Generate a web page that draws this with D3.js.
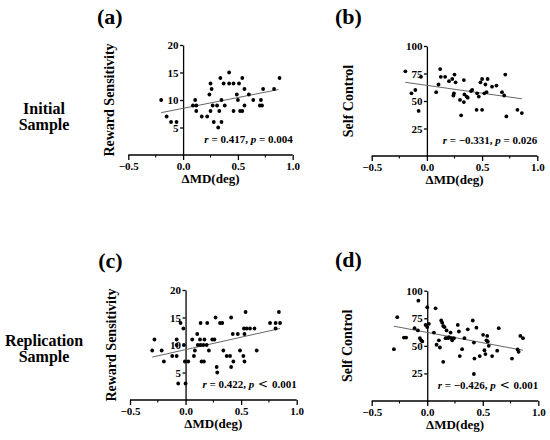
<!DOCTYPE html>
<html><head><meta charset="utf-8">
<script src="https://cdn.jsdelivr.net/npm/d3@7/dist/d3.min.js"></script>
<style>body{margin:0;background:#fff}svg{display:block}text{font-family:"Liberation Serif","Times New Roman",serif;font-weight:bold;fill:#000}</style>
</head><body><svg id="c" width="550" height="440"></svg>
<script>
// ---- data ----
const xTicks = [-0.5, 0, 0.5, 1.0];
const xMinorTicks = [-0.25, 0.25, 0.75];
const rsTicks = [5, 10, 15, 20];
const scTicks = [25, 50, 75, 100];

const aX = [-0.20,-0.15,-0.11,-0.06,0.09,0.11,0.12,0.12,0.17,0.22,0.24,0.25,0.26,0.25,0.27,0.28,0.31,0.32,0.33,0.34,0.35,0.35,0.37,0.38,0.42,0.42,0.46,0.46,0.49,0.50,0.51,0.52,0.54,0.54,0.56,0.56,0.60,0.64,0.70,0.71,0.72,0.73,0.83,0.88];
const aY = [10,7,6,6,9,10,9,8,7,7,11,13,12,8,9,6,9,5,8,14,6,10,13,9,15,13,13,8,11,10,13,8,14,8,12,9,11,10,9,10,9,12,12,14];
const aFit = [[-0.20, 7.7], [0.87, 11.9]];

const bX = [-0.195,-0.14,-0.105,-0.075,-0.054,0.084,0.105,0.12,0.126,0.165,0.20,0.23,0.24,0.245,0.25,0.26,0.30,0.31,0.335,0.335,0.34,0.36,0.37,0.40,0.41,0.45,0.455,0.47,0.485,0.50,0.50,0.52,0.53,0.54,0.55,0.59,0.63,0.68,0.70,0.71,0.72,0.82,0.86];
const bY = [77,57,60,41,72,58,65,79,72,72,68,70,55,57,74,67,51,37,69,49,56,54,53,59,60,42,57,54,67,70,42,57,65,58,70,63,64,58,55,74,36,42,39];
const bFit = [[-0.195, 67], [0.86, 52]];

const cX = [-0.30,-0.28,-0.215,-0.195,-0.12,-0.08,-0.08,-0.08,-0.066,-0.045,-0.02,-0.015,-0.006,0.0,0.024,0.06,0.075,0.084,0.105,0.11,0.13,0.135,0.135,0.144,0.16,0.165,0.17,0.19,0.195,0.21,0.24,0.26,0.27,0.28,0.285,0.31,0.33,0.34,0.37,0.40,0.41,0.41,0.425,0.43,0.47,0.49,0.52,0.525,0.53,0.53,0.54,0.55,0.58,0.62,0.64,0.76,0.81,0.81,0.84,0.85];
const cY = [9,11,9,7,8,11,10,8,3,14,13,10,7,3,7,11,8,9,12,10,11,14,10,7,10,7,11,10,14,9,11,11,15,6,5,14,14,9,8,8,6,15,12,7,12,9,8,13,7,12,16,13,13,13,9,14,14,13,16,14];
const cFit = [[-0.30, 7.8], [0.85, 13.0]];

const dX = [-0.30,-0.27,-0.21,-0.19,-0.114,-0.08,-0.084,-0.066,-0.054,-0.045,-0.015,0.0,0.0,0.015,0.06,0.075,0.084,0.105,0.114,0.126,0.135,0.144,0.144,0.156,0.165,0.174,0.186,0.195,0.21,0.216,0.225,0.24,0.275,0.285,0.293,0.314,0.335,0.365,0.41,0.42,0.425,0.42,0.443,0.473,0.503,0.515,0.524,0.533,0.54,0.545,0.554,0.584,0.63,0.644,0.763,0.814,0.823,0.838,0.862];
const dY = [47,76,57.5,57.5,66,91,64,57,55,54,69,85,67,70,62,84,51,55,48.5,73,71,68,35.5,67,57,64,57,58,62,57,55,57,69,63,40.7,47,57,65,73,53,38.5,24.5,66.5,40.7,60,46,42.5,55,59,54,50,40.7,45.6,66,38.5,46.8,44.6,59,57];
const dFit = [[-0.30, 67.8], [0.862, 46]];

const panels = [
  {id:"(a)", xs:aX, ys:aY, fit:aFit, yTicks:rsTicks, yMax:20, yLabel:"Reward Sensitivity",
   stat:["r"," = 0.417, ","p"," = 0.004"], x0:128.3, x1:292.7, yb:155, yt:45, labDx:19.3, idDx:18.5, idY:24},
  {id:"(b)", xs:bX, ys:bY, fit:bFit, yTicks:scTicks, yMax:100, yLabel:"Self Control",
   stat:["r"," = −0.331, ","p"," = 0.026"], x0:371.7, x1:537.3, yb:156, yt:46, labDx:24.2, idDx:23.2, idY:24},
  {id:"(c)", xs:cX, ys:cY, fit:cFit, yTicks:rsTicks, yMax:20, yLabel:"Reward Sensitivity",
   stat:["r"," = 0.422, ","p"," < ","0.001"], x0:130, x1:296.7, yb:400, yt:290, labDx:19, idDx:19.5, idY:267.5},
  {id:"(d)", xs:dX, ys:dY, fit:dFit, yTicks:scTicks, yMax:100, yLabel:"Self Control",
   stat:["r"," = −0.426, ","p"," < ","0.001"], x0:371.7, x1:538.3, yb:401, yt:290.7, labDx:24.7, idDx:23.2, idY:267}
];
const rowLabels = [["Initial","Sample"],["Replication","Sample"]];

// ---- drawing ----
const svg = d3.select("#c");
const fmt = d3.format(".1f");

panels.forEach(p => {
  const g = svg.append("g");
  const x = d3.scaleLinear().domain([-0.5, 1.0]).range([p.x0, p.x1]);
  const y = d3.scaleLinear().domain([0, p.yMax]).range([p.yb, p.yt]);

  // x axis
  const xa = g.append("g").attr("transform", `translate(0,${y(0)})`)
    .call(d3.axisBottom(x).tickValues(xTicks).tickFormat(fmt).tickSize(5).tickSizeOuter(0).tickPadding(2));
  xa.selectAll(".tick text").attr("font-size", 11).attr("font-family", "Liberation Serif").attr("font-weight","bold");
  xa.selectAll("path,line").attr("stroke", "#000").attr("stroke-width", 1.3);
  xa.select(".domain").attr("d", `M${x(-0.5)},0H${x(1.0)}`);
  g.append("g").selectAll("line").data(xMinorTicks).join("line")
    .attr("x1", d => x(d)).attr("x2", d => x(d))
    .attr("y1", y(0)).attr("y2", y(0) + 2.5)
    .attr("stroke", "#000").attr("stroke-width", 1.1);

  // y axis
  const ya = g.append("g").attr("transform", `translate(${x(0)},0)`)
    .call(d3.axisLeft(y).tickValues(p.yTicks).tickSize(3).tickSizeOuter(0).tickPadding(1.5));
  ya.selectAll(".tick text").attr("font-size", 11).attr("font-family", "Liberation Serif").attr("font-weight","bold");
  ya.selectAll("path,line").attr("stroke", "#000").attr("stroke-width", 1.3);

  // fit line
  g.append("line")
    .attr("x1", x(p.fit[0][0])).attr("y1", y(p.fit[0][1]))
    .attr("x2", x(p.fit[1][0])).attr("y2", y(p.fit[1][1]))
    .attr("stroke", "#666").attr("stroke-width", 1);

  // points
  g.append("g").selectAll("circle").data(p.xs.map((v,i)=>[v,p.ys[i]])).join("circle")
    .attr("cx", d => x(d[0])).attr("cy", d => y(d[1])).attr("r", 1.9).attr("fill", "#000");

  // stat annotation
  const st = g.append("text").attr("x", x(1.0)).attr("y", p.yb - 12).attr("text-anchor", "end").attr("font-size", 11);
  p.stat.forEach((s, i) => {
    const t = st.append("tspan").text(s).attr("xml:space","preserve");
    if (s === "r" || s === "p") t.attr("font-style", "italic");
    if (s === " < ") t.attr("font-weight", "normal").attr("font-family", "DejaVu Sans").attr("font-size", 12);
  });
  st.style("white-space", "pre");

  // axis labels
  g.append("text").attr("x", (p.x0 + p.x1) / 2).attr("y", p.yb + 28)
    .attr("text-anchor", "middle").attr("font-size", 13).text("ΔMD(deg)");
  g.append("text").attr("transform", `translate(${p.x0 - p.labDx + 5},${(p.yb + p.yt) / 2}) rotate(-90)`)
    .attr("text-anchor", "middle").attr("font-size", 14).text(p.yLabel);

  // panel id
  g.append("text").attr("x", p.x0 - p.idDx).attr("y", p.idY)
    .attr("text-anchor", "middle").attr("font-size", 22).text(p.id);
});

// row labels
[[114, 130], [346, 362]].forEach((ys, r) => {
  rowLabels[r].forEach((s, k) => {
    svg.append("text").attr("x", 44).attr("y", ys[k]).attr("text-anchor", "middle")
      .attr("font-size", 16).text(s);
  });
});
</script></body></html>
